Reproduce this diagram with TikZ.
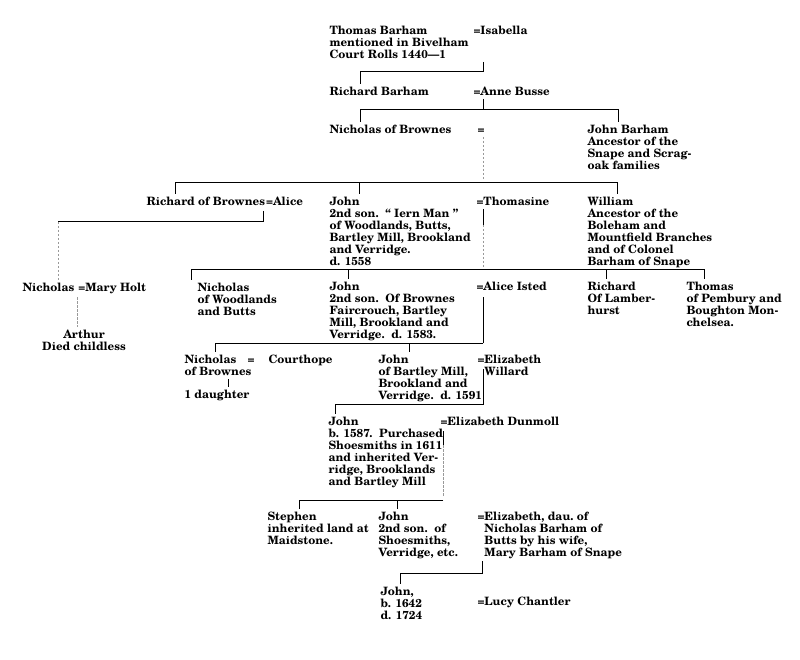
\documentclass[tikz,border=0pt]{standalone}
\usepackage{fontspec}
\setmainfont{texgyreschola-bold.otf}
\usetikzlibrary{backgrounds, positioning}

\begin{document}
\begin{tikzpicture}[
    background rectangle/.style={fill=white},
    show background rectangle,
    inner frame sep=0pt,
    x=1pt, y=-1pt,
    line width=1pt
  ]

  \tikzstyle{person}=[
      anchor=north west,
      yshift=8.4pt,
      inner sep=0pt,
      align=left,
      font=\fontsize{11.5}{12}\selectfont,
      execute at begin node=\strut
  ]
  \tikzstyle{mate}=[
      inner sep=0pt,
      font=\fontsize{11.5}{12}\selectfont
  ]
  \tikzstyle{tree}=[draw, shorten >=3pt]
  \tikzstyle{faint}=[draw=gray!80, thin, dash pattern=on 2.5pt off 1.5pt, shorten >=3pt]

  \useasboundingbox (0,0) rectangle (800,660);

  % generations
  \node[person] (thom) at (329,34) {Thomas Barham\\mentioned in Bivelham\\Court Rolls 1440---1};
  \node[person] (isab) at (473,34) {=Isabella};
  \node[person] (richb) at (329,95) {Richard Barham};
  \node[person] (anne) at (473,95) {=Anne Busse};
  \node[person] (nichb) at (329,133) {Nicholas of Brownes};
  \node[person] (nicheq) at (477,133) {=};
  \node[person] (jbar) at (587,133) {John Barham\\Ancestor of the\\Snape and Scrag-\\oak families};

  \node[person] (richbr) at (146,205) {Richard of Brownes};
  \node[mate] (alice) [base right=0pt of richbr] {=Alice};
  \node[person] (john1) at (329,205) {John\\2nd son.\ \ `` Iern Man ''\\of Woodlands, Butts,\\Bartley Mill, Brookland\\and Verridge.\\d. 1558};
  \node[person] (thomas) at (476,205) {=Thomasine};
  \node[person] (will) at (587,205) {William\\Ancestor of the\\Boleham and\\Mountfield Branches\\and of Colonel\\Barham of Snape};

  \node[person] (nichol) at (22,291) {Nicholas};
  \node[mate] (mary) [base right=3pt of nichol] {=Mary Holt};
  \node[person, anchor=north, align=center] (arthur) at (84,338) {Arthur\\Died childless};
  \node[person] (nichw) at (197,291) {Nicholas\\of Woodlands\\and Butts};
  \node[person] (john2) at (329,290) {John\\2nd son.\ \ Of Brownes\\Faircrouch, Bartley\\Mill, Brookland and\\Verridge.\ \ d. 1583.};
  \node[person] (isted) at (476,290) {=Alice Isted};
  \node[person] (richl) at (587,290) {Richard\\Of Lamber-\\hurst};
  \node[person] (thompb) at (686,290) {Thomas\\of Pembury and\\Boughton Mon-\\chelsea.};

  \node[person] (nichbr) at (184,363) {Nicholas\\of Brownes};
  \node[person] (nicheqb) at (247,363) {=};
  \node[person] (court) at (268,363) {Courthope};
  \node[person] (daught) at (184,398) {1 daughter};
  \node[person] (john3) at (378,363) {John\\of Bartley Mill,\\Brookland and\\Verridge.\ \ d. 1591};
  \node[person] (willard) at (477,363) {=Elizabeth\\\phantom{=}Willard};

  \node[person] (john4) at (328,425) {John\\b. 1587.\ \ Purchased\\Shoesmiths in 1611\\and inherited Ver-\\ridge, Brooklands\\and Bartley Mill};
  \node[person] (dunm) at (440,425) {=Elizabeth Dunmoll};

  \node[person] (steph) at (267,520) {Stephen\\inherited land at\\Maidstone.};
  \node[person] (john5) at (378,520) {John\\2nd son.\ \ of\\Shoesmiths,\\Verridge, etc.};
  \node[person] (elizd) at (477,520) {=Elizabeth, dau.\ of\\\phantom{=}Nicholas Barham of\\\phantom{=}Butts by his wife,\\\phantom{=}Mary Barham of Snape};

  \node[person] (john6) at (380,595) {John,\\b. 1642\\d. 1724};
  \node[person] (lucy) at (477,605) {=Lucy Chantler};

  % descent lines
  \coordinate (f1) at (483,62);
  \coordinate (f2) at (483,99);
  \coordinate (f3) at (483,137);
  \coordinate (f4) at (263,211);
  \coordinate (f5) at (77,297);
  \coordinate (f6) at (483,209);
  \coordinate (f7) at (483,297);
  \coordinate (f8) at (228,379);
  \coordinate (f9) at (483,369);
  \coordinate (f10) at (443,431);
  \coordinate (f11) at (482,561);

  \path[tree] (f1) -- ++(0,10) -| ([xshift=31pt]richb.north west);

  \path[draw] (f2) -- ++(0,11) coordinate (b2);
  \path[tree] (b2) -| ([xshift=31pt]nichb.north west);
  \path[tree] (b2) -| ([xshift=31pt]jbar.north west);

  \path[faint] (f3) -- ++(0,46) coordinate (b3);
  \path[tree] (b3) -| ([xshift=29pt]richbr.north west);
  \path[tree] (b3) -| ([xshift=30pt]john1.north west);
  \path[tree] (b3) -| ([xshift=30pt]will.north west);

  \path[draw] (f4) -- ++(0,11) -- ++(-205,0) coordinate (b4);
  \path[faint] (b4) -- ([xshift=36pt]nichol.north west);
  \path[faint] (f5) -- (f5 |- arthur.north);

  \path[draw] (f6) -- ++(0,16) coordinate (m6);
  \path[faint] (m6) -- ++(0,45) coordinate (b6);
  \path[tree] (b6) -| ([xshift=-6pt]nichw.north west);
  \path[tree] (b6) -| ([xshift=19pt]john2.north west);
  \path[tree] (b6) -| ([xshift=19pt]richl.north west);
  \path[tree] (b6) -| ([xshift=18pt]thompb.north west);

  \path[draw] (f7) -- ++(0,46) coordinate (b7);
  \path[tree] (b7) -| ([xshift=31pt]nichbr.north west);
  \path[tree] (b7) -| ([xshift=31pt]john3.north west);
  \path[tree] (f8) -- (f8 |- daught.north);

  \path[tree] (f9) -- ++(0,35) -| ([xshift=7pt]john4.north west);

  \path[draw] (f10) -- ++(0,14) coordinate (m10);
  \path[faint] (m10) -- ++(0,55) coordinate (b10);
  \path[tree] (b10) -| ([xshift=32pt]steph.north west);
  \path[tree] (b10) -| ([xshift=19pt]john5.north west);

  \path[tree] (f11) -- ++(0,12) -| ([xshift=20pt]john6.north west);
\end{tikzpicture}
\end{document}
